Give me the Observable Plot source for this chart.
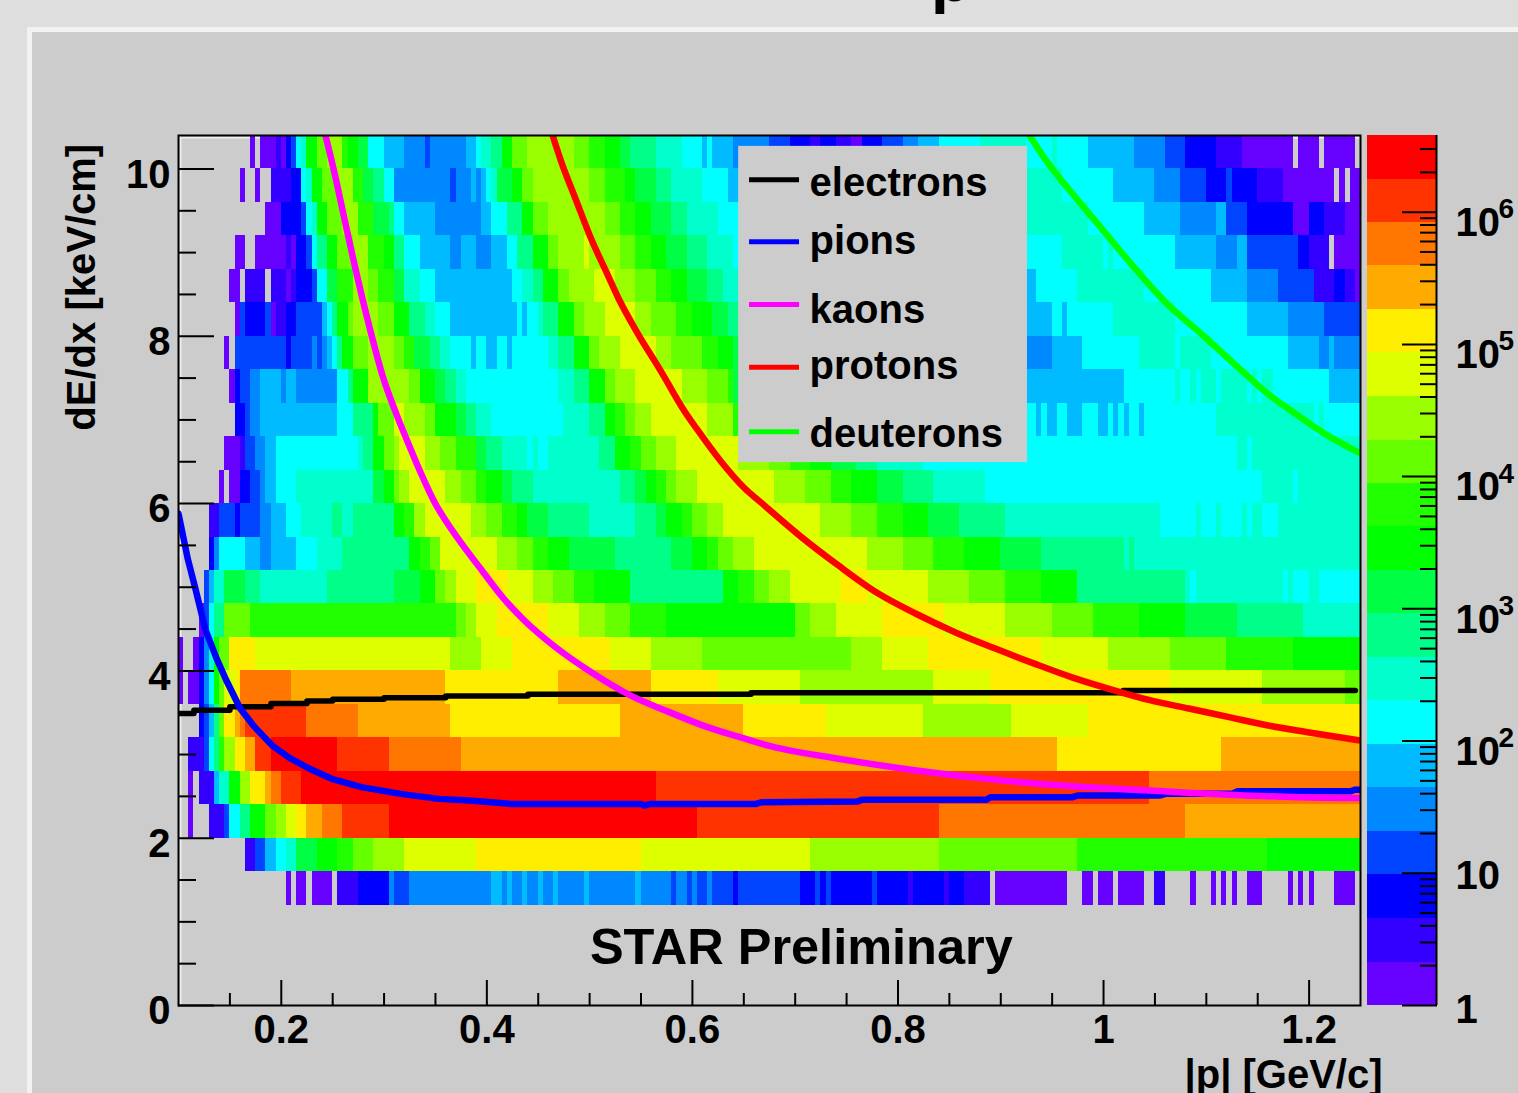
<!DOCTYPE html>
<html>
<head>
<meta charset="utf-8">
<script src="https://cdn.jsdelivr.net/npm/d3@7"></script>
<script src="https://cdn.jsdelivr.net/npm/@observablehq/plot@0.6"></script>
<style>
html,body{margin:0;padding:0;width:1518px;height:1093px;overflow:hidden;background:#dedede;}
#panel{position:absolute;left:27px;top:27px;width:1491px;height:1066px;box-sizing:border-box;border-left:5px solid #f2f2f2;border-top:5px solid #f2f2f2;background:#cccccc;}
#main,#bar{position:absolute;}
#main{left:0;top:0;}
#bar{left:1367px;top:100px;}
#cut{position:absolute;left:931px;top:-53px;font:bold 64px "Liberation Sans";line-height:64px;color:#000;}
</style>
</head>
<body>
<div id="panel"></div>
<div id="cut">p</div>
<div id="main"></div>
<div id="bar"></div>
<script>
// colour levels, lowest to highest
const palette = ["#6600ff","#3300ff","#0000ff","#0044ff","#0088ff","#00bbff","#00ffff","#00ffcc","#00ff88","#00ff44","#00ff00","#22ff00","#66ff00","#99ff00","#ddff00","#ffee00","#ffaa00","#ff7700","#ff3300","#ff0000"];
const levelEdges = [1,2.13,4.55,9.71,20.7,44.2,94.2,201,429,915,1950,4160,8880,18900,40400,86200,184000,392000,837000,1780000,3800000];

// each row: |p| where a run starts, its colour level (-1 = empty), ... , last |p|
const row100 = [.170,0,.175,-1,.180,0,.195,1,.200,0,.205,2,.210,3,.215,6,.220,7,.225,10,.235,12,.245,13,.260,11,.265,10,.275,9,.285,6,.300,5,.320,4,.340,3,.345,4,.380,5,.390,6,.395,7,.405,8,.415,10,.425,12,.440,13,.485,12,.500,11,.515,10,.530,9,.540,8,.565,7,.590,6,.610,5,.615,6,.620,5,.640,4,.675,3,.695,2,.715,1,.725,2,.740,1,.755,0,.765,2,.785,3,.805,4,.820,5,.840,6,.880,7,.925,6,.950,7,.955,6,.985,5,1.030,4,1.060,3,1.080,2,1.110,1,1.135,0,1.185,-1,1.190,0,1.210,-1,1.215,0,1.245,-1,1.250];
const row96 = [.160,0,.165,-1,.175,0,.180,-1,.190,1,.210,2,.220,6,.225,7,.230,10,.240,12,.255,13,.270,11,.280,9,.290,8,.300,6,.310,4,.365,3,.370,4,.385,5,.390,4,.395,5,.400,6,.405,7,.410,9,.425,10,.435,12,.445,13,.500,12,.515,11,.535,10,.545,9,.565,8,.580,7,.610,6,.635,5,.925,7,.960,6,1.010,5,1.050,4,1.075,3,1.100,2,1.120,3,1.125,2,1.150,1,1.175,0,1.225,-1,1.230,0,1.235,-1,1.240,0,1.250];
const row92 = [.185,0,.200,2,.220,3,.225,6,.230,7,.235,10,.245,12,.260,13,.275,11,.290,9,.305,8,.310,6,.320,5,.350,4,.395,5,.405,6,.420,8,.435,10,.445,12,.460,13,.515,12,.530,11,.545,10,.560,9,.580,8,.595,7,.625,6,.925,7,.985,6,1.040,5,1.075,4,1.110,5,1.120,3,1.140,2,1.185,0,1.200,2,1.215,1,1.235,0,1.250];
const row88 = [.155,0,.165,-1,.175,0,.205,1,.210,0,.215,2,.225,3,.230,6,.235,8,.245,10,.255,12,.270,13,.285,11,.300,10,.310,8,.320,6,.335,5,.365,4,.375,5,.390,4,.405,5,.420,6,.430,8,.445,10,.460,12,.470,13,.495,14,.500,13,.530,12,.545,11,.560,10,.575,9,.595,8,.615,7,.640,6,.960,7,1.000,6,1.005,7,1.010,6,1.070,5,1.110,4,1.130,5,1.140,3,1.190,2,1.200,1,1.220,-1,1.225,0,1.250];
const row84 = [.150,0,.160,-1,.165,1,.185,-1,.190,1,.205,0,.210,1,.215,2,.230,3,.235,6,.245,9,.255,11,.270,13,.285,12,.295,11,.310,9,.320,7,.335,6,.350,5,.425,6,.435,7,.445,8,.455,10,.470,12,.480,13,.505,14,.525,13,.545,12,.565,11,.580,10,.595,9,.615,8,.630,7,.925,5,.935,6,.975,7,1.040,6,1.105,5,1.140,4,1.170,3,1.205,1,1.225,2,1.235,1,1.245,0,1.250];
const row80 = [.155,0,.160,3,.165,2,.185,3,.190,0,.195,1,.205,2,.215,3,.240,5,.245,6,.250,8,.255,10,.265,12,.270,13,.295,12,.310,10,.325,8,.340,7,.350,6,.365,5,.430,6,.435,5,.440,6,.450,7,.455,8,.470,10,.485,12,.495,13,.515,14,.545,13,.560,12,.585,11,.600,10,.620,9,.635,8,.925,5,.950,6,.960,5,.965,6,1.010,7,1.070,6,1.140,5,1.180,4,1.215,3,1.250];
const row76 = [.145,0,.150,-1,.155,3,.205,2,.210,3,.230,4,.235,3,.240,4,.245,5,.250,6,.255,8,.260,10,.270,12,.285,13,.310,12,.320,11,.330,9,.345,8,.355,7,.365,6,.385,5,.390,6,.400,5,.410,6,.420,5,.425,6,.460,7,.470,8,.485,10,.500,12,.510,13,.530,14,.565,13,.580,12,.610,11,.625,10,.640,9,.925,4,.950,5,.980,6,1.035,7,1.070,6,1.075,7,1.105,6,1.180,5,1.210,4,1.220,5,1.225,4,1.250];
const row72 = [.150,0,.155,2,.160,3,.170,4,.180,5,.200,4,.205,5,.215,4,.255,6,.265,8,.270,10,.285,13,.325,12,.335,10,.350,9,.360,8,.370,7,.380,6,.470,7,.485,8,.500,10,.515,12,.525,13,.545,14,.590,13,.615,12,.635,11,.640,9,.925,5,1.020,6,1.070,7,1.075,6,1.085,7,1.090,6,1.095,7,1.110,6,1.115,7,1.140,6,1.145,7,1.150,6,1.155,7,1.165,6,1.220,5,1.250];
const row68 = [.155,2,.165,3,.170,4,.180,5,.255,6,.270,8,.290,10,.295,12,.310,14,.320,13,.340,12,.350,10,.370,9,.380,8,.390,7,.405,6,.475,7,.500,8,.515,10,.525,11,.535,12,.545,13,.560,14,.615,13,.640,11,.925,6,.935,5,.940,6,.945,5,.955,6,.965,5,.980,6,.995,5,1.005,6,1.010,5,1.015,6,1.020,5,1.025,6,1.035,5,1.040,6,1.110,7,1.205,6,1.210,7,1.215,6,1.250];
const row64 = [.145,0,.160,1,.165,3,.175,4,.185,5,.195,6,.275,7,.280,8,.290,10,.300,12,.310,13,.315,14,.340,13,.355,12,.370,11,.390,9,.400,8,.415,7,.440,6,.445,7,.450,6,.460,7,.510,8,.525,10,.540,11,.550,12,.565,13,.585,14,.645,13,.675,12,.695,11,.715,10,.735,9,.760,8,.780,7,.825,6,1.130,7,1.140,6,1.145,7,1.250];
const row60 = [.140,0,.145,-1,.150,0,.160,2,.170,3,.180,4,.185,5,.195,6,.215,7,.290,9,.300,10,.310,12,.315,13,.325,14,.360,13,.375,12,.390,11,.400,10,.415,9,.425,8,.445,7,.530,8,.545,9,.555,10,.565,11,.575,12,.585,13,.605,14,.680,13,.710,12,.735,11,.755,10,.780,9,.805,8,.835,7,.885,6,1.155,7,1.185,6,1.190,7,1.250];
const row56 = [.130,1,.140,3,.155,2,.160,3,.180,4,.190,5,.205,6,.220,7,.250,8,.260,7,.270,8,.310,10,.320,11,.330,13,.340,14,.385,13,.400,12,.415,11,.430,10,.440,9,.460,8,.500,7,.545,8,.565,9,.575,10,.590,11,.600,12,.615,13,.630,14,.725,13,.755,12,.780,11,.805,10,.830,9,.860,8,.905,7,1.055,6,1.090,7,1.095,6,1.110,7,1.115,6,1.135,7,1.140,6,1.145,7,1.155,6,1.170,7,1.250];
const row52 = [.130,2,.135,4,.140,6,.165,5,.180,4,.190,5,.215,6,.235,7,.260,8,.325,10,.335,11,.345,12,.355,14,.410,13,.430,12,.445,11,.460,10,.480,9,.525,8,.580,9,.600,10,.615,11,.625,12,.640,13,.660,14,.770,13,.805,12,.835,11,.865,10,.900,9,.940,8,1.020,7,1.025,8,1.030,7,1.250];
const row48 = [.125,3,.130,5,.135,7,.145,9,.165,8,.180,7,.245,8,.310,9,.335,10,.350,12,.360,13,.370,14,.390,15,.420,14,.445,13,.465,12,.485,11,.505,10,.540,8,.630,10,.645,11,.660,12,.675,13,.695,14,.745,15,.770,14,.830,13,.870,12,.905,11,.940,10,.975,8,1.080,7,1.085,6,1.090,7,1.175,6,1.180,7,1.185,6,1.200,7,1.210,6,1.250];
const row44 = [.120,0,.125,3,.130,6,.135,8,.145,12,.170,11,.370,12,.380,13,.390,14,.410,15,.460,14,.490,13,.515,12,.540,11,.575,10,.700,12,.715,13,.740,14,.785,15,.845,14,.905,13,.950,12,.990,11,1.035,10,1.080,9,1.130,8,1.195,7,1.250];
const row40 = [.100,0,.105,-1,.115,0,.120,2,.125,4,.130,7,.135,10,.140,12,.150,15,.175,14,.365,13,.395,14,.425,15,.520,14,.560,13,.610,12,.755,13,.785,14,.830,15,.940,14,1.005,13,1.065,12,1.120,11,1.185,10,1.250];
const row36 = [.100,0,.105,-1,.110,0,.120,2,.125,4,.130,6,.135,10,.140,12,.145,14,.155,15,.160,17,.210,16,.360,15,.470,16,.560,15,.625,14,.705,13,.835,14,.890,15,1.065,14,1.155,13,1.235,12,1.250];
const row32 = [.120,2,.125,3,.130,5,.135,8,.140,12,.145,15,.155,16,.160,17,.165,18,.225,17,.275,16,.365,15,.530,16,.650,15,.730,14,.825,13,.910,14,.985,15,1.250];
const row28 = [.110,1,.125,3,.130,6,.135,8,.140,11,.145,13,.155,15,.165,16,.175,18,.190,19,.255,18,.305,17,.375,16,.955,15,1.115,16,1.250];
const row24 = [.110,0,.115,-1,.120,1,.135,5,.140,7,.150,10,.160,13,.170,15,.185,16,.190,17,.200,18,.220,19,.565,18,1.045,17,1.250];
const row20 = [.110,0,.115,-1,.130,1,.145,3,.150,6,.160,8,.170,10,.185,12,.195,13,.205,14,.215,15,.225,16,.240,17,.260,18,.305,19,.605,18,.840,17,1.080,16,1.250];
const row16 = [.165,1,.175,3,.185,5,.195,6,.205,7,.215,9,.235,10,.255,11,.270,12,.290,13,.320,14,.390,15,.550,14,.715,13,.840,12,.975,11,1.160,10,1.250];
const row12 = [.205,0,.210,-1,.215,0,.225,-1,.230,0,.250,-1,.255,1,.275,2,.305,4,.310,3,.325,4,.405,5,.415,4,.420,5,.425,4,.435,5,.440,4,.450,5,.455,4,.465,5,.470,4,.495,5,.500,4,.545,5,.550,4,.580,3,.585,4,.595,3,.600,4,.605,3,.615,4,.620,3,.640,2,.645,3,.705,2,.720,3,.725,2,.730,3,.735,2,.775,3,.780,2,.810,1,.815,2,.845,1,.850,2,.865,1,.890,-1,.895,0,.965,-1,.980,0,.990,-1,.995,0,1.010,-1,1.015,0,1.040,-1,1.050,1,1.060,-1,1.085,0,1.090,-1,1.105,0,1.110,-1,1.115,0,1.120,-1,1.125,0,1.130,-1,1.140,0,1.155,-1,1.180,0,1.185,-1,1.190,0,1.195,-1,1.200,0,1.205,-1,1.225,0,1.245];

const rowLows = [10,9.6,9.2,8.8,8.4,8,7.6,7.2,6.8,6.4,6,5.6,5.2,4.8,4.4,4,3.6,3.2,2.8,2.4,2,1.6,1.2];
const rowRuns = [row100,row96,row92,row88,row84,row80,row76,row72,row68,row64,row60,row56,row52,row48,row44,row40,row36,row32,row28,row24,row20,row16,row12];
const rowHeight = 0.4;

// theoretical curves: |p| and dE/dx
const electronP = [.100,.115,.150,.190,.225,.250,.300,.360,.440,.657,1.019,1.245];
const electronE = [3.49,3.53,3.57,3.61,3.64,3.66,3.68,3.70,3.72,3.74,3.765,3.765];
const pionP = [.100,.109,.1165,.126,.137,.146,.160,.174,.191,.208,.226,.249,.278,.316,.353,.383,.423,.550,.553,.559,.662,.667,.761,.765,.886,.890,.970,.975,1.055,1.060,1.125,1.130,1.240,1.245,1.250];
const pionE = [5.88,5.34,4.98,4.50,4.15,3.90,3.55,3.33,3.11,2.96,2.84,2.71,2.61,2.53,2.47,2.45,2.41,2.41,2.39,2.41,2.41,2.43,2.44,2.46,2.46,2.49,2.49,2.51,2.51,2.53,2.53,2.56,2.56,2.58,2.58];
const kaonP = [.243,.252,.2615,.271,.286,.299,.312,.3215,.331,.349,.372,.394,.416,.435,.465,.502,.539,.577,.614,.651,.676,.742,.818,.894,.970,1.045,1.121,1.190,1.248];
const kaonE = [10.4,9.94,9.40,8.87,8.10,7.51,7.07,6.78,6.50,6.02,5.58,5.22,4.87,4.62,4.30,3.98,3.71,3.51,3.33,3.19,3.10,2.95,2.81,2.70,2.62,2.57,2.52,2.49,2.48];
const protonP = [.464,.472,.487,.502,.517,.529,.547,.569,.592,.605,.628,.651,.666,.704,.742,.780,.818,.856,.894,.932,.970,1.007,1.045,1.083,1.121,1.159,1.197,1.248];
const protonE = [10.4,10.1,9.62,9.15,8.75,8.43,8.03,7.59,7.11,6.88,6.50,6.18,6.02,5.62,5.26,4.93,4.68,4.46,4.27,4.09,3.92,3.78,3.65,3.55,3.45,3.35,3.27,3.17];
const deuteronP = [.928,.943,.970,1.000,1.030,1.060,1.095,1.129,1.159,1.186,1.212,1.250];
const deuteronE = [10.4,10.12,9.70,9.26,8.82,8.41,8.03,7.65,7.32,7.08,6.86,6.60];

const legendNames = ["electrons","pions","kaons","protons","deuterons"];
const legendColors = ["#000000","#0000ff","#ff00ff","#ff0000","#00ff00"];
const legendLineE = [9.87,9.13,8.38,7.63,6.86];
const legendTextE = [9.83,9.135,8.31,7.64,6.83];

const xMajor = [.2,.4,.6,.8,1,1.2];
const xMinor = [.15,.25,.3,.35,.45,.5,.55,.65,.7,.75,.85,.9,.95,1.05,1.1,1.15];
const yMajor = [0,2,4,6,8,10];
const yMinor = [.5,1,1.5,2.5,3,3.5,4.5,5,5.5,6.5,7,7.5,8.5,9,9.5];

const barMajor = [1,10,100,1000,10000,100000,1000000];
const barMinor = [2,3,4,5,6,7,8,9,20,30,40,50,60,70,80,90,200,300,400,500,600,700,800,900,2000,3000,4000,5000,6000,7000,8000,9000,20000,30000,40000,50000,60000,70000,80000,90000,200000,300000,400000,500000,600000,700000,800000,900000,2000000,3000000];
const barExponents = ["2","3","4","5","6"];
const barPowers = [100,1000,10000,100000,1000000];

const font = '"Liberation Sans", Arial, sans-serif';
const noLabel = () => "";

const cells = [];
rowRuns.forEach((runs, r) => {
  for (let i = 0; i + 2 < runs.length; i += 2) {
    if (runs[i + 1] >= 0) cells.push({x1: runs[i], x2: runs[i + 2], y1: rowLows[r], y2: rowLows[r] + rowHeight, level: runs[i + 1]});
  }
});
const curve = (P, E) => P.map((p, i) => ({p, e: E[i]}));
const line = (P, E, stroke, extra = {}) => Plot.line(curve(P, E), {x: "p", y: "e", stroke, strokeWidth: 6.5, strokeLinejoin: "round", curve: "monotone-x", clip: true, ...extra});

const chart = Plot.plot({
  width: 1518, height: 1093,
  marginLeft: 178, marginRight: 158, marginTop: 135, marginBottom: 88,
  style: {background: "transparent", fontFamily: font},
  x: {domain: [.1, 1.25], axis: null},
  y: {domain: [0, 10.4], axis: null},
  color: {type: "ordinal", domain: palette.map((_, i) => i), range: palette},
  marks: [
    Plot.ruleX([.1], {stroke: "#eeeeee", strokeWidth: 2, dx: 2}),
    Plot.ruleY([10.4], {stroke: "#eeeeee", strokeWidth: 2, dy: 2}),
    Plot.rect(cells, {x1: "x1", x2: "x2", y1: "y1", y2: "y2", fill: "level", shapeRendering: "crispEdges"}),
    line(electronP, electronE, legendColors[0], {curve: "step-after", strokeWidth: 5.5}),
    line(deuteronP, deuteronE, legendColors[4]),
    line(protonP, protonE, legendColors[3]),
    line(pionP, pionE, legendColors[1], {curve: "linear"}),
    line(kaonP, kaonE, legendColors[2]),
    Plot.rect([{}], {x1: () => .645, x2: () => .926, y1: () => 6.49, y2: () => 10.27, fill: "#cccccc"}),
    Plot.ruleY(legendLineE, {x1: () => .6556, x2: () => .7042, y: d => d, stroke: (d, i) => legendColors[i], strokeWidth: 5}),
    Plot.text(legendNames, {x: () => .714, y: (d, i) => legendTextE[i], text: d => d, textAnchor: "start", fontSize: 40, fontWeight: "bold", fill: "#000"}),
    Plot.text(["STAR Preliminary"], {x: () => .706, y: () => .69, text: d => d, fontSize: 50.5, fontWeight: "bold", fill: "#000"}),
    Plot.axisX(xMajor, {anchor: "bottom", tickSize: -25, tickFormat: noLabel, strokeWidth: 2, stroke: "#000", label: null}),
    Plot.axisX(xMinor, {anchor: "bottom", tickSize: -12, tickFormat: noLabel, strokeWidth: 2, stroke: "#000", label: null}),
    Plot.axisX(xMajor, {anchor: "bottom", tickSize: 0, tickPadding: 9, tickFormat: d => String(d), fontSize: 40, fontWeight: "bold", fill: "#000", label: null}),
    Plot.axisY(yMajor, {anchor: "left", tickSize: -36, tickFormat: noLabel, strokeWidth: 2, stroke: "#000", label: null}),
    Plot.axisY(yMinor, {anchor: "left", tickSize: -18, tickFormat: noLabel, strokeWidth: 2, stroke: "#000", label: null}),
    Plot.axisY(yMajor, {anchor: "left", tickSize: 0, tickPadding: 8, dy: 6, tickFormat: d => String(d), fontSize: 40, fontWeight: "bold", fill: "#000", label: null}),
    Plot.text(["|p| [GeV/c]"], {x: () => 1.25, y: () => 0, dx: 22, dy: 70, text: d => d, textAnchor: "end", fontSize: 40, fontWeight: "bold", fill: "#000"}),
    Plot.text(["dE/dx [keV/cm]"], {x: () => .1, y: () => 10.3, dx: -96, text: d => d, rotate: -90, textAnchor: "end", fontSize: 40, fontWeight: "bold", fill: "#000"}),
    Plot.frame({stroke: "#000", strokeWidth: 2})
  ]
});
document.getElementById("main").appendChild(chart);

const barCells = palette.map((_, i) => ({y1: levelEdges[i], y2: levelEdges[i + 1], level: i}));
const bar = Plot.plot({
  width: 151, height: 993,
  marginLeft: 0, marginRight: 82, marginTop: 35, marginBottom: 88,
  style: {background: "transparent", fontFamily: font, overflow: "visible"},
  x: {domain: [0, 1], axis: null},
  y: {type: "log", domain: [1, 3800000], axis: null},
  color: {type: "ordinal", domain: palette.map((_, i) => i), range: palette},
  marks: [
    Plot.rect(barCells, {x1: () => 0, x2: () => 1, y1: "y1", y2: "y2", fill: "level", shapeRendering: "crispEdges"}),
    Plot.axisY(barMajor, {anchor: "right", tickSize: -35, tickFormat: noLabel, strokeWidth: 2, stroke: "#000", label: null}),
    Plot.axisY(barMinor, {anchor: "right", tickSize: -17, tickFormat: noLabel, strokeWidth: 2, stroke: "#000", label: null}),
    Plot.ruleX([1], {stroke: "#000", strokeWidth: 2}),
    Plot.text(barPowers, {x: () => 1, y: d => d, dx: 19, dy: 11, text: () => "10", textAnchor: "start", fontSize: 40, fontWeight: "bold", fill: "#000"}),
    Plot.text(barExponents, {x: () => 1, y: (d, i) => barPowers[i], dx: 62, dy: -3, text: d => d, textAnchor: "start", fontSize: 28, fontWeight: "bold", fill: "#000"}),
    Plot.text(["10"], {x: () => 1, y: () => 10, dx: 19, dy: 3, text: d => d, textAnchor: "start", fontSize: 40, fontWeight: "bold", fill: "#000"}),
    Plot.text(["1"], {x: () => 1, y: () => 1, dx: 19, dy: 5, text: d => d, textAnchor: "start", fontSize: 40, fontWeight: "bold", fill: "#000"})
  ]
});
document.getElementById("bar").appendChild(bar);
</script>
</body>
</html>
